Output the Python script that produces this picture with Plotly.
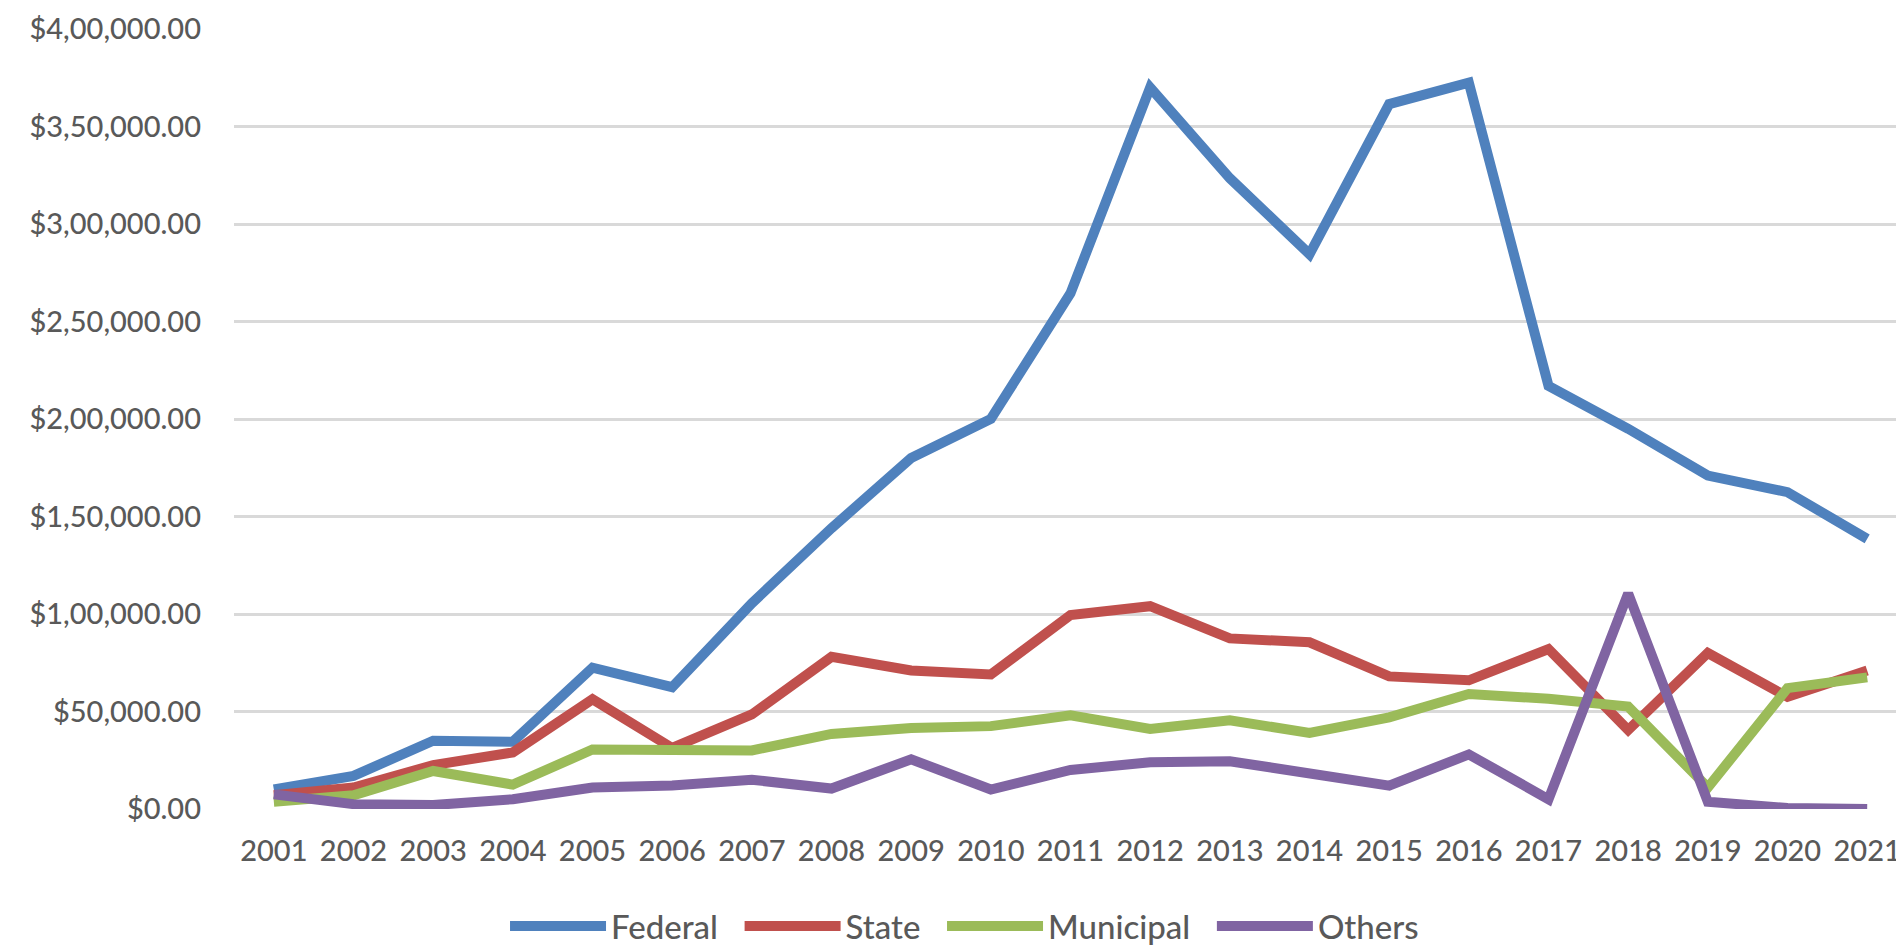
import plotly.graph_objects as go

years = list(range(2001, 2022))
federal = [10000, 17000, 35000, 34500, 72500, 62500, 105500, 144000, 180000, 200000, 264500,
           370000, 323500, 284500, 361500, 372500, 217000, 195000, 171000, 162500, 138500]
state = [7000, 11000, 22500, 29000, 56300, 31300, 48500, 78000, 71000, 69000, 99500,
         104000, 87500, 85500, 68000, 66000, 82000, 40500, 80000, 57500, 71000]
municipal = [3700, 7000, 19500, 12500, 30500, 30500, 30000, 38500, 41500, 42500, 48000,
             41000, 45500, 39000, 47000, 59000, 56500, 52500, 11000, 62000, 67500]
others = [7500, 2500, 2000, 5000, 11000, 12000, 15000, 10500, 25500, 10000, 20000,
          24000, 24500, 18500, 12000, 28000, 5000, 110500, 3700, 500, 0]

series_names = ["Federal", "State", "Municipal", "Others"]
series_values = [federal, state, municipal, others]
series_colors = ["#4F81BD", "#C0504D", "#9BBB59", "#8064A2"]

y_tickvals = [0, 50000, 100000, 150000, 200000, 250000, 300000, 350000, 400000]
y_ticktext = ["$0.00", "$50,000.00", "$1,00,000.00", "$1,50,000.00", "$2,00,000.00",
              "$2,50,000.00", "$3,00,000.00", "$3,50,000.00", "$4,00,000.00"]
x_ticktext = [str(y) for y in years]

FONT = "Lato"
TXT = "#595959"
PAD = "\u00a0\u00a0"

fig = go.Figure()
for name, vals, col in zip(series_names, series_values, series_colors):
    fig.add_trace(go.Scatter(
        x=years, y=vals, name=name + PAD, mode="lines",
        line=dict(color=col, width=10),
    ))

fig.update_layout(
    width=1904, height=950,
    paper_bgcolor="white", plot_bgcolor="white",
    margin=dict(l=226, r=5, t=21, b=149, autoexpand=False),
    font=dict(family=FONT, size=29, color=TXT, weight=500),
    xaxis=dict(
        range=[2000.5, 2021.5], tickvals=years, ticktext=x_ticktext,
        showgrid=False, zeroline=False, showline=False, ticks="",
        ticklabelstandoff=22, tickfont=dict(family=FONT, size=29, color=TXT, weight=500),
    ),
    yaxis=dict(
        range=[0, 400000], tickvals=y_tickvals, ticktext=y_ticktext,
        showgrid=True, gridcolor="#D9D9D9", gridwidth=3,
        zeroline=False, showline=False, ticks="",
        ticklabelstandoff=32, tickfont=dict(family=FONT, size=29, color=TXT, weight=500),
    ),
    legend=dict(
        orientation="h", xref="paper", yref="paper",
        x=0.162, xanchor="left", y=-0.15, yanchor="middle",
        font=dict(family=FONT, size=33, color=TXT, weight=500),
        itemwidth=96, tracegroupgap=0, bgcolor="rgba(0,0,0,0)",
    ),
    showlegend=True,
)

fig.write_html("out.html")
